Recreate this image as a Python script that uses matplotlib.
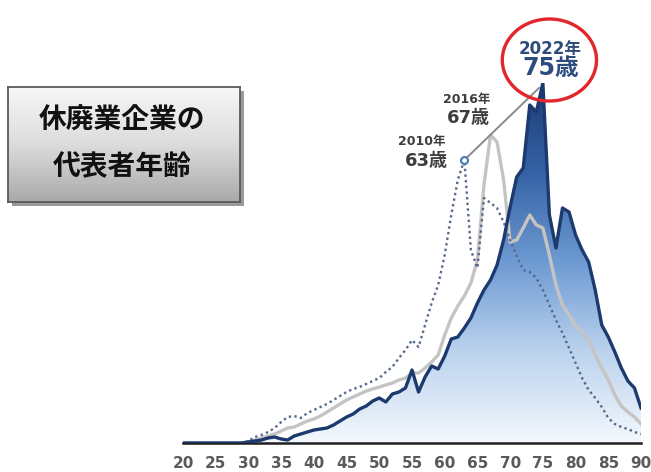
import numpy as np
import matplotlib
matplotlib.use("Agg")
import matplotlib.pyplot as plt
from matplotlib.colors import LinearSegmentedColormap
from matplotlib.patches import Ellipse

plt.rcParams['font.family'] = ['DejaVu Sans', 'Noto Sans CJK JP']

# age of representative of closed companies (share by age, arbitrary units)
ages = list(range(20, 91))

share_2010 = [0] * 10 + [
    0.02, 0.06, 0.08, 0.11, 0.15, 0.21, 0.26, 0.27, 0.25, 0.30,
    0.33, 0.36, 0.39, 0.43, 0.47, 0.51, 0.54, 0.56, 0.59, 0.62,
    0.65, 0.71, 0.76, 0.85, 0.93, 1.03, 0.96, 1.18, 1.40, 1.58,
    1.88, 2.28, 2.63, 2.83, 1.93, 1.75, 2.45, 2.40, 2.35, 2.21,
    2.03, 1.87, 1.73, 1.71, 1.65, 1.53, 1.38, 1.23, 1.10, 0.95,
    0.80, 0.65, 0.53, 0.45, 0.36, 0.25, 0.19, 0.16, 0.14, 0.11,
    0.09]

share_2016 = [0] * 10 + [
    0.01, 0.03, 0.05, 0.07, 0.09, 0.12, 0.15, 0.16, 0.19, 0.22,
    0.24, 0.27, 0.31, 0.35, 0.39, 0.43, 0.46, 0.49, 0.52, 0.54,
    0.56, 0.58, 0.60, 0.63, 0.65, 0.70, 0.70, 0.75, 0.81, 0.88,
    1.08, 1.25, 1.37, 1.47, 1.60, 1.83, 2.58, 3.08, 3.01, 2.63,
    2.01, 2.03, 2.15, 2.28, 2.18, 2.15, 1.88, 1.58, 1.38, 1.28,
    1.17, 1.11, 1.03, 0.88, 0.75, 0.63, 0.48, 0.37, 0.31, 0.26,
    0.19]

share_2022 = [0] * 10 + [
    0.01, 0.02, 0.03, 0.05, 0.06, 0.04, 0.03, 0.07, 0.09, 0.11,
    0.13, 0.14, 0.15, 0.18, 0.22, 0.26, 0.29, 0.34, 0.37, 0.42,
    0.45, 0.41, 0.49, 0.51, 0.55, 0.73, 0.51, 0.66, 0.77, 0.74,
    0.87, 1.04, 1.06, 1.15, 1.25, 1.40, 1.53, 1.63, 1.78, 2.03,
    2.36, 2.66, 2.75, 3.38, 3.31, 3.60, 2.28, 1.95, 2.35, 2.31,
    2.08, 1.93, 1.81, 1.53, 1.18, 1.06, 0.91, 0.75, 0.62, 0.55,
    0.35]

tick_ages = list(range(20, 95, 5))
peak_labels = [("2010年", "63歳"), ("2016年", "67歳"), ("2022年", "75歳")]

fig = plt.figure(figsize=(6.51, 4.72), dpi=100)
ax = fig.add_axes([183 / 651, 29 / 472, 458 / 651, 360 / 472])
ax.set_xlim(20, 90)
ax.set_ylim(0, 3.6)

# gradient fill under the 2022 curve
blues = LinearSegmentedColormap.from_list(
    "fill", [(0.0, "#f4f8fd"), (0.25, "#bcd3ee"), (0.5, "#6f9bd3"),
             (0.75, "#3563a6"), (1.0, "#1c3b74")])
grad = np.linspace(0, 1, 256).reshape(-1, 1)
img = ax.imshow(grad, cmap=blues, origin="lower", aspect="auto",
                extent=[20, 90, 0, 3.6], zorder=1)
poly = ax.fill_between(ages, share_2022, 0, color="none", lw=0)
img.set_clip_path(poly.get_paths()[0], transform=ax.transData)

ax.plot(ages, share_2016, color="#c6c3c3", lw=2.4, zorder=2)
ax.plot(ages, share_2010, color="#55698c", lw=1.7, ls=(0, (1, 1.4)), zorder=3)
ax.plot(ages, share_2022, color="#1c3a6e", lw=2.4, zorder=4)

# leader line through the peaks
i10 = int(np.argmax(share_2010))
i22 = int(np.argmax(share_2022))
ax.plot([ages[i10], ages[i22] - 0.6], [share_2010[i10], share_2022[i22] - 0.05],
        color="#8a8a8a", lw=1.4, zorder=5, clip_on=False)
ax.plot(ages[i10], share_2010[i10], "o", ms=5, mfc="white", mec="#4a78b0",
        mew=1.5, zorder=6)

# peak labels
ax.text(56.5, 3.02, peak_labels[0][0], ha="center", va="center", fontsize=9,
        fontweight="bold", color="#3d3d3d")
ax.text(57.2, 2.82, peak_labels[0][1], ha="center", va="center", fontsize=13,
        fontweight="bold", color="#3d3d3d")
ax.text(63.3, 3.44, peak_labels[1][0], ha="center", va="center", fontsize=9,
        fontweight="bold", color="#3d3d3d")
ax.text(63.6, 3.25, peak_labels[1][1], ha="center", va="center", fontsize=13,
        fontweight="bold", color="#3d3d3d")
ax.text(76.1, 3.94, peak_labels[2][0], ha="center", va="center", fontsize=12,
        fontweight="bold", color="#2d4b7c")
ax.text(76.2, 3.75, peak_labels[2][1], ha="center", va="center", fontsize=17,
        fontweight="bold", color="#2d4b7c")
ax.add_patch(Ellipse((76.0, 3.83), 14.4, 0.82, fill=False, ec="#e2262b",
                     lw=2.4, clip_on=False, zorder=7))

for side in ["top", "right", "left"]:
    ax.spines[side].set_visible(False)
ax.spines["bottom"].set_color("#1e1e1e")
ax.spines["bottom"].set_linewidth(1.8)
ax.set_yticks([])
ax.set_xticks(tick_ages)
ax.set_xticklabels([str(a) for a in tick_ages])
ax.tick_params(axis="x", length=0, pad=9, labelsize=11, labelcolor="#5a5a5a")
for lab in ax.get_xticklabels():
    lab.set_fontweight("bold")

# title box with shadow
sax = fig.add_axes([12 / 651, 266 / 472, 232 / 651, 115 / 472])
sax.set_facecolor("#9a9a9a")
sax.set_xticks([])
sax.set_yticks([])
for s in sax.spines.values():
    s.set_visible(False)

bax = fig.add_axes([8 / 651, 270 / 472, 232 / 651, 115 / 472])
bax.set_zorder(3)
greys = LinearSegmentedColormap.from_list("box", ["#a9a9a9", "#dcdcdc", "#f7f7f7"])
bax.imshow(grad, cmap=greys, origin="lower", aspect="auto", extent=[0, 1, 0, 1])
bax.set_xticks([])
bax.set_yticks([])
for s in bax.spines.values():
    s.set_color("#5a5a5a")
    s.set_linewidth(1.3)
box_font = ['Noto Sans CJK JP', 'DejaVu Sans']
bax.text(0.49, 0.71, "休廃業企業の", ha="center", va="center", fontsize=20,
         fontweight="bold", family=box_font, color="#111111")
bax.text(0.49, 0.30, "代表者年齢", ha="center", va="center", fontsize=20,
         fontweight="bold", family=box_font, color="#111111")

fig.savefig("out.png", dpi=100)
